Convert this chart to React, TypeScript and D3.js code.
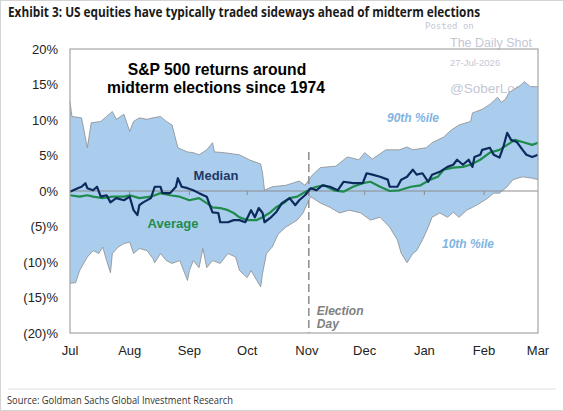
import * as d3 from 'd3';

// [days since Jul 1, % return]
const p90: [number, number][] = [
  [0, 12.6], [1, 10.5], [6, 10.3], [9, 6.1], [11, 9.6], [16, 9.8], [19, 10.5], [22, 11.2],
  [24, 10.1], [28, 10.8], [31, 8.4], [33, 9.8], [36, 10.3], [40, 10.1], [43, 10.3], [47, 10.5],
  [50, 9.8], [53, 9.3], [56, 6.1], [61, 5.5], [64, 5.4], [67, 5.1], [71, 5.8], [74, 6.8],
  [75, 5.5], [80, 5.4], [88, 5.1], [93, 4.4], [99, 3.8], [100, 2.5], [101, 0.1], [105, 0.6],
  [112, 0.8], [119, 1.4], [122, 0.8], [126, 2.3], [130, 3.3], [138, 3.5], [144, 4.8], [150, 4.4],
  [153, 5.4], [157, 4.5], [164, 5.8], [171, 5.8], [175, 6.2], [178, 5.8], [185, 6.1], [188, 6.8],
  [194, 7.6], [198, 8.6], [202, 9.3], [208, 9.8], [209, 11.0], [214, 11.5], [218, 12.2], [222, 13.2],
  [224, 12.5], [226, 12.9], [228, 13.9], [233, 14.7], [236, 15.4], [239, 14.7], [243, 14.7],
];

const p10: [number, number][] = [
  [0, -13.0], [3, -12.9], [5, -11.2], [9, -9.3], [12, -8.4], [15, -8.8], [17, -7.9], [19, -9.8],
  [21, -11.5], [22, -8.8], [25, -7.9], [28, -7.4], [31, -7.2], [33, -8.8], [36, -8.1], [40, -8.4],
  [43, -9.5], [44, -10.1], [47, -8.8], [50, -9.8], [53, -10.2], [57, -9.8], [61, -12.6], [62, -11.2],
  [64, -9.8], [67, -10.8], [69, -8.1], [71, -10.8], [74, -9.8], [78, -10.2], [82, -8.8], [86, -9.3],
  [88, -11.2], [92, -12.2], [94, -11.2], [97, -12.6], [99, -13.5], [100, -11.6], [102, -8.8], [105, -7.9],
  [108, -6.1], [112, -5.1], [118, -4.1], [121, -3.1], [124, -1.3], [125, -0.8], [130, -1.7], [135, -2.3],
  [140, -3.1], [145, -2.7], [151, -3.1], [156, -4.1], [161, -3.7], [166, -5.1], [170, -6.9], [172, -8.8],
  [175, -10.1], [178, -8.8], [180, -8.4], [183, -6.9], [186, -5.1], [188, -3.7], [192, -3.1], [196, -3.7],
  [199, -3.0], [202, -3.7], [206, -2.7], [209, -2.3], [213, -1.7], [217, -1.0], [220, -0.3], [223, -0.3],
  [227, 0.6], [230, 1.6], [235, 2.0], [240, 1.8], [243, 1.6],
];

const median: [number, number][] = [
  [0, -0.1], [4, 0.4], [6, 0.6], [8, 1.1], [9, 0.4], [12, 0.1], [14, 0.6], [16, -0.8],
  [19, -0.6], [21, -1.6], [24, -1.0], [28, -1.3], [31, -0.8], [33, -2.7], [35, -3.4], [36, -2.0],
  [38, -1.6], [42, -1.0], [44, 0.6], [47, 0.6], [48, -0.3], [52, -0.3], [55, 0.6], [56, 1.8],
  [58, 0.6], [61, 0.4], [64, 0.1], [67, -0.3], [71, -0.8], [73, -2.3], [74, -3.0], [77, -3.1],
  [78, -4.4], [82, -4.4], [85, -4.1], [88, -4.1], [91, -4.4], [94, -2.7], [96, -3.7], [98, -2.4],
  [100, -3.1], [101, -4.4], [104, -3.8], [107, -3.0], [110, -1.7], [114, -1.0], [117, -2.0], [119, -1.3],
  [122, -0.6], [125, 0.4], [128, 0.1], [131, 0.8], [135, 0.6], [139, 0.1], [142, 1.3], [147, 1.1],
  [152, 1.1], [154, 2.5], [157, 2.3], [161, 2.0], [165, 1.6], [166, 0.6], [170, 0.6], [172, 1.6],
  [175, 2.0], [178, 3.0], [180, 2.3], [183, 2.5], [186, 1.3], [188, 2.3], [192, 2.7], [196, 3.4],
  [199, 3.7], [201, 4.4], [204, 3.7], [207, 4.4], [209, 3.4], [210, 4.8], [213, 5.1], [214, 5.8],
  [218, 6.1], [220, 5.1], [223, 4.7], [225, 6.2], [227, 8.2], [229, 7.2], [232, 6.9], [235, 5.8],
  [237, 5.1], [240, 4.8], [243, 5.1],
];

const average: [number, number][] = [
  [0, -0.6], [5, -0.8], [9, -0.6], [12, -0.8], [17, -1.0], [22, -0.8], [28, -0.8], [31, -0.6],
  [36, -1.0], [42, -0.8], [47, -0.3], [52, -0.6], [57, -0.8], [62, -1.3], [67, -1.0], [71, -1.7],
  [74, -2.3], [78, -2.4], [82, -2.7], [85, -3.1], [88, -3.7], [92, -4.1], [97, -4.1], [100, -3.7],
  [104, -3.0], [107, -2.3], [111, -1.7], [114, -1.0], [118, -0.8], [121, -0.3], [125, 0.3], [128, 0.6],
  [132, 0.8], [137, 0.1], [142, -0.1], [147, 0.6], [152, 1.1], [156, 1.3], [161, 0.6], [166, 0.0],
  [171, 0.1], [177, 0.6], [182, 0.8], [187, 1.6], [191, 2.0], [194, 3.0], [199, 3.3], [204, 3.4],
  [208, 3.7], [213, 4.4], [218, 5.4], [223, 5.8], [227, 6.5], [231, 7.2], [235, 6.9], [240, 6.5],
  [243, 6.8],
];

const monthDays = [0, 31, 62, 92, 123, 153, 184, 215, 243];
const monthLabels = ['Jul', 'Aug', 'Sep', 'Oct', 'Nov', 'Dec', 'Jan', 'Feb', 'Mar'];
const yTicks = [20, 15, 10, 5, 0, -5, -10, -15, -20];
const electionDay = 124;

const W = 564;
const H = 411;
const plot = { left: 70, right: 538, top: 49, bottom: 333 };
const FONT = '"Liberation Sans", Arial, sans-serif';

export default function App() {
  const x = d3.scaleLinear().domain([0, 243]).range([plot.left, plot.right]);
  const y = d3.scaleLinear().domain([-20, 20]).range([plot.bottom, plot.top]);

  const line = d3.line<[number, number]>()
    .x(d => x(d[0]))
    .y(d => y(d[1]));

  const bandPath = line([...p90, ...[...p10].reverse()]) + 'Z';
  const fmt = (v: number) => (v < 0 ? `(${-v})%` : `${v}%`);

  return (
    <svg
      width={W}
      height={H}
      style={{ position: 'fixed', left: 0, top: 0, background: '#fff' }}
      fontFamily={FONT}
    >
      <rect x={0.5} y={0.5} width={W - 1} height={H - 1} fill="#fff" stroke="#d4d4d4" />

      <text
        x={8}
        y={17}
        fontFamily='"Open Sans", sans-serif'
        fontWeight={700}
        fontSize={13.5}
        fill="#1a1a1a"
        textLength={472}
        lengthAdjust="spacingAndGlyphs"
      >
        Exhibit 3: US equities have typically traded sideways ahead of midterm elections
      </text>

      {/* watermark */}
      <g fill="#c4c7d6">
        <text x={425} y={29} fontSize={9} fontFamily='"DejaVu Sans Mono", monospace'>Posted on</text>
        <text x={450} y={47} fontSize={12.5}>The Daily Shot</text>
        <text x={450} y={66} fontSize={9.5}>27-Jul-2026</text>
        <text x={450} y={93} fontSize={13.5}>@SoberLook</text>
      </g>

      {/* 10th-90th percentile band */}
      <path d={bandPath} fill="#aacdee" stroke="none" />
      <path d={line(p90) ?? ''} fill="none" stroke="#8c8c8c" strokeWidth={0.8} />
      <path d={line(p10) ?? ''} fill="none" stroke="#8c8c8c" strokeWidth={0.8} />

      {/* zero line + month ticks */}
      <line x1={plot.left} x2={plot.right} y1={y(0)} y2={y(0)} stroke="#8c8c8c" strokeWidth={1} />
      {monthDays.slice(1, -1).map(d => (
        <line key={d} x1={x(d)} x2={x(d)} y1={y(0)} y2={y(0) + 4} stroke="#8c8c8c" strokeWidth={1} />
      ))}

      {/* election day */}
      <line
        x1={x(electionDay)}
        x2={x(electionDay)}
        y1={y(5.5)}
        y2={plot.bottom}
        stroke="#8c8c8c"
        strokeWidth={1.5}
        strokeDasharray="8,4"
      />
      <g fontStyle="italic" fontWeight={700} fontSize={12} fill="#808080">
        <text x={x(electionDay) + 8} y={315}>Election</text>
        <text x={x(electionDay) + 8} y={328}>Day</text>
      </g>

      <path d={line(average) ?? ''} fill="none" stroke="#1e8c4b" strokeWidth={2.2} strokeLinejoin="round" />
      <path d={line(median) ?? ''} fill="none" stroke="#0d2a5c" strokeWidth={2.2} strokeLinejoin="round" />

      {/* frame */}
      <rect
        x={plot.left}
        y={plot.top}
        width={plot.right - plot.left}
        height={plot.bottom - plot.top}
        fill="none"
        stroke="#a6a6a6"
        strokeWidth={1.2}
      />

      {/* labels */}
      <g fontWeight={700} fontSize={15.7} fill="#000" textAnchor="middle">
        <text x={217} y={75}>S&amp;P 500 returns around</text>
        <text x={216} y={93}>midterm elections since 1974</text>
      </g>
      <text x={216} y={180} fontWeight={700} fontSize={13} fill="#1f3864" textAnchor="middle">Median</text>
      <text x={173} y={228} fontWeight={700} fontSize={13} fill="#1e8c4b" textAnchor="middle">Average</text>
      <g fontWeight={700} fontStyle="italic" fontSize={12} fill="#7fb4e3" textAnchor="middle">
        <text x={413} y={122}>90th %ile</text>
        <text x={468} y={248}>10th %ile</text>
      </g>

      {/* y axis */}
      {yTicks.map(v => (
        <text key={v} x={58} y={y(v)} dy="0.35em" textAnchor="end" fontSize={13} fill="#222">
          {fmt(v)}
        </text>
      ))}

      {/* x axis */}
      {monthDays.map((d, i) => (
        <text key={d} x={x(d)} y={355} textAnchor="middle" fontSize={13} fill="#222">
          {monthLabels[i]}
        </text>
      ))}

      <line x1={8} x2={556} y1={389} y2={389} stroke="#e0e0e0" strokeWidth={1} />
      <text
        x={7}
        y={404}
        fontFamily='"Open Sans", sans-serif'
        fontSize={10.5}
        fill="#333"
        textLength={226}
        lengthAdjust="spacingAndGlyphs"
      >
        Source: Goldman Sachs Global Investment Research
      </text>
    </svg>
  );
}
